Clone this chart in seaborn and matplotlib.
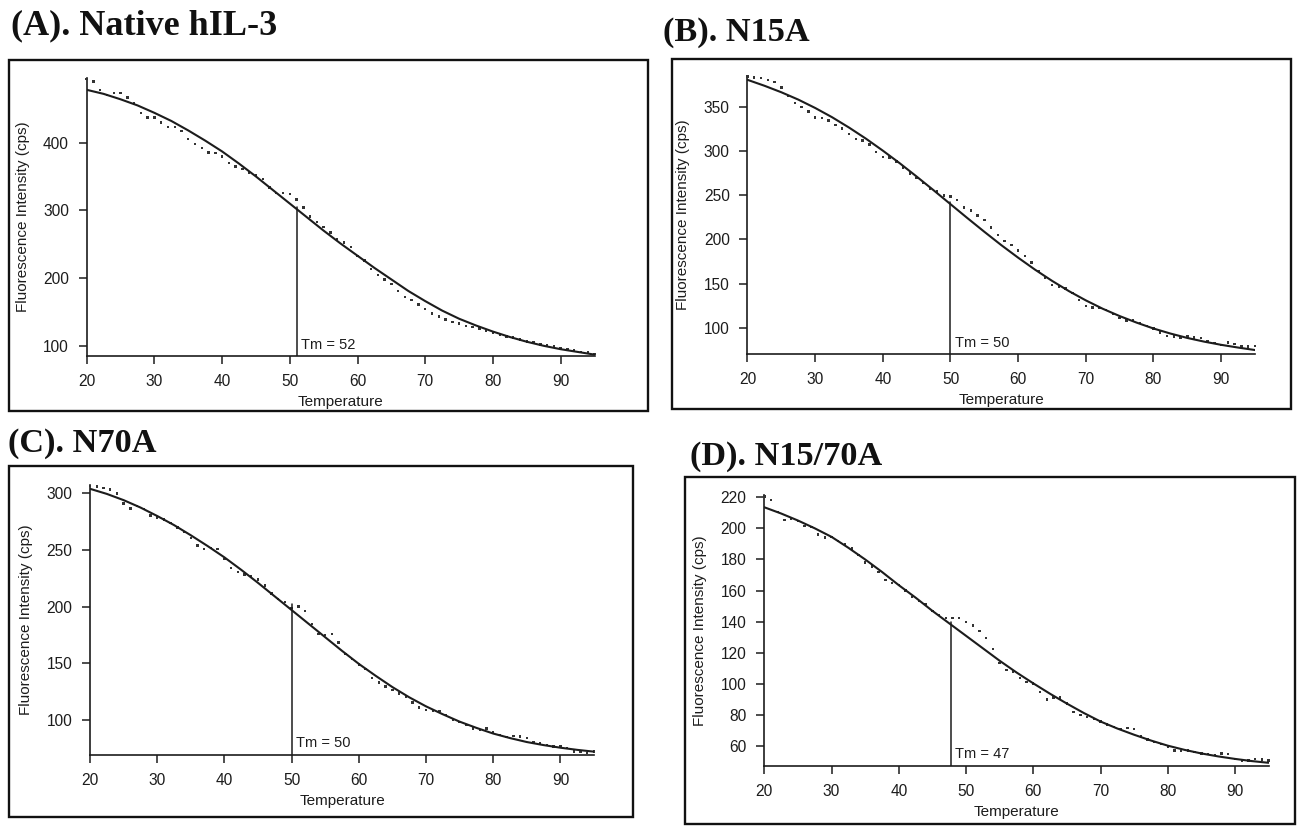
import matplotlib
matplotlib.use("Agg")
import matplotlib.pyplot as plt
import seaborn as sns
from matplotlib.patches import Rectangle

# ---------------- data ----------------
temps = list(range(20, 96))
fit_temps = [20, 22.5, 25, 27.5, 30, 32.5, 35, 37.5, 40, 42.5, 45, 47.5, 50, 52.5, 55,
             57.5, 60, 62.5, 65, 67.5, 70, 72.5, 75, 77.5, 80, 82.5, 85, 87.5, 90, 92.5, 95]
x_ticks = [20, 30, 40, 50, 60, 70, 80, 90]

titles = ["(A). Native hIL-3", "(B). N15A", "(C). N70A", "(D). N15/70A"]
tm_labels = ["Tm = 52", "Tm = 50", "Tm = 50", "Tm = 47"]
tm_x = [51, 50, 50, 47.7]
tm_top = [305, 242, 202, 140]

a_dots = [494, 490.5, 478, 470, 473, 473, 466.5, 458, 444, 437, 437, 430, 423, 423, 417, 405,
          398, 392, 385.5, 384.5, 379.5, 370, 364.5, 361, 356, 352, 346, 334, 326, 326, 324,
          316, 304, 291, 282.5, 275, 267.5, 258, 252.5, 246, 233, 226, 213, 204.5, 198, 191,
          180.5, 172.5, 167.5, 161, 154, 147.5, 143, 139, 135.5, 133, 129.5, 128, 125.5, 122,
          119.5, 117, 114, 112, 109.5, 106.5, 105, 102, 100.5, 99, 97, 95.5, 93, 91, 90, 88]
a_fit = [478, 472, 464, 455, 444, 432, 418, 403, 387, 369, 350, 330, 310, 290, 270, 251, 233,
         215, 198, 181, 166, 152, 140, 130, 121, 113, 106, 100, 95, 91, 87]

b_dots = [385, 383.5, 383, 381, 378.5, 372.5, 363, 354.5, 350, 345, 338.5, 337.5, 335, 330,
          326, 319.5, 314, 312, 307.5, 299, 293.5, 293, 288.5, 281.5, 275, 269.5, 264, 258,
          254.5, 250, 248.5, 245, 236, 233, 227, 222, 213.5, 205, 198.5, 194, 187.5, 181.5,
          174, 164.5, 156, 148.5, 146.5, 144.5, 139.5, 131.5, 124.5, 123, 122, 120, 115.5,
          111, 108, 108, 105.5, 102, 99, 94.5, 90.5, 90, 89, 90, 89, 88, 85, 82.5, 80.5, 83,
          81.5, 78.5, 78.5, 79.5]
b_fit = [381, 374.3, 366.9, 358.6, 349.1, 338.6, 326.9, 314.3, 300.7, 286.4, 271.3, 255.8,
         240, 224.2, 208.7, 193.6, 179.3, 165.7, 153.1, 141.4, 130.9, 121.4, 113.1, 105.7, 99,
         93.3, 88.3, 84.1, 80.5, 77.4, 74.6]

c_dots = [306.5, 306, 304.5, 303.5, 300, 291, 286.5, 289, 286, 280.5, 278.5, 277, 274, 270,
          266, 260.5, 254, 251, 251.5, 251, 242, 234, 230.5, 228.5, 226.5, 224, 218.5, 211.5,
          207, 204, 199, 200, 196, 184.5, 176, 175, 176, 168.5, 158, 154, 149, 145, 137, 133,
          129.5, 126.5, 123.5, 120.5, 115.5, 111, 109, 108, 108, 104.5, 100, 98, 95.5, 92.5,
          91, 92.5, 89.5, 86.5, 85, 86, 85.5, 84, 80.5, 79.5, 78, 76.5, 76.5, 75, 72, 72, 71, 72]
c_fit = [304, 299.5, 294, 287.5, 280, 272, 263, 253.5, 243.5, 232.5, 221, 209, 197, 185, 173,
         161, 149.5, 139, 129, 120, 112, 105, 98.5, 93, 88, 84, 80.5, 77.8, 75.5, 73.6, 72]

d_dots = [220.5, 218, 210.5, 205.5, 206, 204.5, 201.5, 201, 196, 194, 194.5, 192, 189.5, 187,
          183, 178, 175.5, 172, 167, 165, 163.5, 160, 156, 153.5, 151.5, 147, 144.5, 142.5,
          142.5, 142.5, 140, 137.5, 134, 129.5, 122.5, 113.5, 109, 108, 104, 101.5, 100.5, 95,
          90, 91.5, 91.5, 87.5, 82, 80, 79, 77.5, 76, 74, 72.5, 71, 72, 71, 66.5, 64.5, 63,
          61.5, 59.5, 57.5, 57, 57.3, 56.5, 55.5, 55, 54.5, 55.5, 55, 52, 50.5, 51, 52, 51.5, 51]
d_fit = [213.5, 209.5, 205, 200, 194.5, 187.5, 180, 172, 163.5, 155.5, 147, 139, 131, 123,
         115, 107.5, 100.5, 93.8, 87.5, 81.5, 76, 71.5, 67.5, 63.8, 60.5, 57.8, 55.5, 53.6,
         52, 50.6, 49.5]

y_ticks = [[100, 200, 300, 400],
           [100, 150, 200, 250, 300, 350],
           [100, 150, 200, 250, 300],
           [60, 80, 100, 120, 140, 160, 180, 200, 220]]
y_lims = [(85.4, 495), (70.1, 385.8), (69.5, 307), (47.7, 221.5)]
all_dots = [a_dots, b_dots, c_dots, d_dots]
all_fits = [a_fit, b_fit, c_fit, d_fit]

# ---------------- layout (pixels) ----------------
W, H = 1301, 827
axes_px = [(86.7, 78.3, 594.5, 355.7),
           (747.5, 75.6, 1255.0, 354.0),
           (90.0, 485.4, 594.0, 754.5),
           (764.3, 494.8, 1268.6, 765.6)]
boxes_px = [(9, 60, 648, 411),
            (671.5, 59, 1291, 409),
            (9, 466, 633, 817),
            (685, 477, 1295, 824)]
title_pos = [(11, 26), (663, 33), (8, 443), (690, 456)]
title_size = [26, 24.7, 24.7, 24.7]

sns.set_theme(style="ticks")
plt.rcParams['font.family'] = ['Liberation Sans', 'DejaVu Sans']

fig = plt.figure(figsize=(W / 100, H / 100), dpi=100)

ink = '#1c1c1c'
for i in range(4):
    l, t, r, b = axes_px[i]
    wpx, hpx = r - l, b - t
    ax = fig.add_axes([l / W, 1 - b / H, wpx / W, hpx / H])
    ax.set_facecolor('none')
    sns.scatterplot(x=temps, y=all_dots[i], ax=ax, marker='s', s=3.0, color='#333333',
                    edgecolor='none', linewidth=0, clip_on=False, zorder=3)
    sns.lineplot(x=fit_temps, y=all_fits[i], ax=ax, color=ink, linewidth=1.5, zorder=4)
    ymin, ymax = y_lims[i]
    ax.plot([tm_x[i], tm_x[i]], [ymin, tm_top[i]], color=ink, linewidth=1.1, zorder=4)
    ax.annotate(tm_labels[i], xy=(tm_x[i], ymin), xytext=(3, 3), textcoords='offset points',
                ha='left', va='bottom', fontsize=10.5, color=ink)
    ax.set_xlim(20, 95)
    ax.set_ylim(ymin, ymax)
    ax.set_xticks(x_ticks)
    ax.set_yticks(y_ticks[i])
    sns.despine(ax=ax)
    for s in ('left', 'bottom'):
        ax.spines[s].set_linewidth(1.2)
        ax.spines[s].set_color(ink)
    ax.tick_params(axis='both', direction='out', length=5.8, width=1.1, color=ink,
                   labelsize=11.2, labelcolor=ink)
    ax.tick_params(axis='x', pad=7.5)
    ax.tick_params(axis='y', pad=7)
    ax.set_xlabel('Temperature', fontsize=11, color=ink, va='center')
    ax.set_ylabel('Fluorescence Intensity (cps)', fontsize=11, color=ink, va='center')
    ax.xaxis.set_label_coords(0.5, -46 / hpx)
    ax.yaxis.set_label_coords(-64 / wpx, 0.5)

    bl, bt, br, bb = boxes_px[i]
    fig.add_artist(Rectangle((bl / W, 1 - bb / H), (br - bl) / W, (bb - bt) / H,
                             transform=fig.transFigure, fill=False, linewidth=1.7,
                             edgecolor='#111111'))
    tx, ty = title_pos[i]
    fig.text(tx / W, 1 - ty / H, titles[i], ha='left', va='center',
             fontfamily='Liberation Serif', fontweight='bold', fontsize=title_size[i],
             color='#111111')

fig.savefig('out.png', dpi=100, facecolor='white')
